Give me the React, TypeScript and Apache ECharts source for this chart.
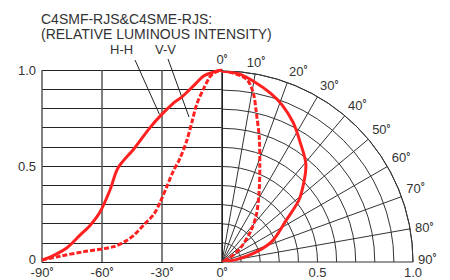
import React, { useEffect, useRef } from 'react';
import * as echarts from 'echarts';

// Left half: rectangular plot (angle in degrees vs relative intensity)
const hhLeftAngle = [-90, -86, -78, -71, -66, -61, -56, -52, -44, -36, -30, -24, -20, -14, -9, -4, 0];
const hhLeftValue = [0.01, 0.025, 0.07, 0.14, 0.19, 0.26, 0.375, 0.49, 0.59, 0.7, 0.77, 0.83, 0.86, 0.92, 0.97, 0.99, 1.0];
const vvLeftAngle = [-90, -81, -69, -54, -48, -44, -38.5, -34, -31, -27.7, -24.5, -21, -17.7, -15, -12.7, -9.3, -6, -3, 0];
const vvLeftValue = [0.01, 0.03, 0.054, 0.08, 0.11, 0.14, 0.2, 0.25, 0.31, 0.39, 0.47, 0.54, 0.63, 0.73, 0.82, 0.9, 0.965, 0.99, 1.0];

// Right half: polar plot (angle from axis, relative intensity as radius)
const hhRightAngle = [0, 5, 10, 16, 21, 27, 33, 41, 45, 51, 57, 67, 73.5, 80, 85];
const hhRightValue = [1.0, 0.99, 0.96, 0.92, 0.88, 0.82, 0.75, 0.67, 0.61, 0.52, 0.4, 0.29, 0.19, 0.08, 0];
const vvRightAngle = [0, 3.5, 7.7, 10.5, 13, 17, 21.5, 27.6, 35.7, 43, 53, 60.5, 65];
const vvRightValue = [1.0, 0.99, 0.965, 0.9, 0.8, 0.67, 0.54, 0.42, 0.31, 0.22, 0.12, 0.05, 0];

const titleLines = ['C4SMF-RJS&C4SME-RJS:', '(RELATIVE LUMINOUS INTENSITY)'];
const seriesNames = ['H-H', 'V-V'];

const FONT = '"Liberation Sans", Arial, sans-serif';
const TXT = '#333';
const RED = '#ff2020';

const degRich = {
  n: { fontSize: 13, color: TXT, fontFamily: FONT },
  d: { fontSize: 10, color: TXT, fontFamily: FONT, fontWeight: 'bold', verticalAlign: 'top' },
  nu: { fontSize: 13, color: TXT, fontFamily: FONT, padding: [0, 0, 6, 0] },
  du: { fontSize: 10, color: TXT, fontFamily: FONT, fontWeight: 'bold', verticalAlign: 'top', padding: [0, 0, 6, 0] },
};
const deg = (v: number) => `{n|${v}}{d|°}`;
const degUp = (v: number) => `{nu|${v}}{du|°}`;

export default function App() {
  const ref = useRef<HTMLDivElement>(null);
  useEffect(() => {
    const chart = echarts.init(ref.current!, null, { renderer: 'svg' });
    const zip = (a: number[], b: number[]) => a.map((x, i) => [x, b[i]]);
    const zipPolar = (ang: number[], val: number[]) => ang.map((x, i) => [val[i], x]);
    chart.setOption({
      animation: false,
      textStyle: { fontFamily: FONT },
      grid: [
        { left: 42, top: 70, width: 180, height: 192 },
        { left: 222, top: 70, width: 191, height: 192 },
      ],
      xAxis: [
        {
          gridIndex: 0, type: 'value', min: -90, max: 0, interval: 30,
          axisLine: { show: true, lineStyle: { color: '#222', width: 1 } },
          axisTick: { show: false },
          splitLine: { show: true, lineStyle: { color: '#555', width: 1.5 } },
          axisLabel: { margin: 4, formatter: (v: number) => deg(v), rich: degRich },
        },
        {
          gridIndex: 1, type: 'value', min: 0, max: 1, interval: 0.5,
          axisLine: { show: false }, axisTick: { show: false }, splitLine: { show: false },
          axisLabel: {
            margin: 4, color: TXT, fontSize: 13, fontFamily: FONT,
            formatter: (v: number) => (v === 0 ? '' : v.toFixed(1)),
          },
        },
      ],
      yAxis: [
        {
          gridIndex: 0, type: 'value', min: 0, max: 1, interval: 0.1,
          axisLine: { show: true, lineStyle: { color: '#222', width: 1 } },
          axisTick: { show: false },
          splitLine: { show: true, lineStyle: { color: '#222', width: 1 } },
          axisLabel: {
            margin: 6, color: TXT, fontSize: 13, fontFamily: FONT,
            rich: { z: { fontSize: 13, color: TXT, fontFamily: FONT, padding: [0, 0, 6, 0] } },
            formatter: (v: number) => {
              if (Math.abs(v) < 1e-6) return '{z|0}';
              if (Math.abs(v - 0.5) < 1e-6) return '0.5';
              if (Math.abs(v - 1) < 1e-6) return '1.0';
              return '';
            },
          },
        },
        { gridIndex: 1, type: 'value', min: 0, max: 1, show: false },
      ],
      polar: { center: [222, 262], radius: 191 },
      angleAxis: {
        type: 'value', min: 0, max: 90, interval: 10,
        startAngle: 90, endAngle: 0, clockwise: true,
        axisLine: { show: true, lineStyle: { color: '#333', width: 1 } },
        axisTick: { show: false },
        splitLine: { show: true, lineStyle: { color: '#333', width: 1 } },
        axisLabel: {
          margin: 5, rich: degRich,
          formatter: (v: number) => (v === 90 ? degUp(v) : deg(v)),
        },
      },
      radiusAxis: {
        type: 'value', min: 0, max: 1, interval: 0.1,
        axisLine: { show: false }, axisTick: { show: false }, axisLabel: { show: false },
        splitLine: { show: true, lineStyle: { color: '#333', width: 1 } },
      },
      series: [
        {
          name: seriesNames[0], type: 'line', xAxisIndex: 0, yAxisIndex: 0,
          data: zip(hhLeftAngle, hhLeftValue), showSymbol: false, smooth: 0.3,
          lineStyle: { color: RED, width: 3 }, z: 5,
        },
        {
          name: seriesNames[1], type: 'line', xAxisIndex: 0, yAxisIndex: 0,
          data: zip(vvLeftAngle, vvLeftValue), showSymbol: false, smooth: 0.3,
          lineStyle: { color: RED, width: 3, type: [5, 2] }, z: 5,
        },
        {
          name: seriesNames[0], type: 'line', coordinateSystem: 'polar',
          data: zipPolar(hhRightAngle, hhRightValue), showSymbol: false, smooth: 0.3,
          lineStyle: { color: RED, width: 3 }, z: 5,
        },
        {
          name: seriesNames[1], type: 'line', coordinateSystem: 'polar',
          data: zipPolar(vvRightAngle, vvRightValue), showSymbol: false, smooth: 0.3,
          lineStyle: { color: RED, width: 3, type: [5, 2] }, z: 5,
        },
      ],
      graphic: [
        { type: 'text', left: 41, top: 12, style: { text: titleLines[0], fill: TXT, font: `14px ${FONT}` } },
        { type: 'text', left: 41, top: 27, style: { text: titleLines[1], fill: TXT, font: `14px ${FONT}` } },
        { type: 'text', left: 110, top: 43, style: { text: seriesNames[0], fill: TXT, font: `13px ${FONT}` } },
        { type: 'text', left: 155, top: 43, style: { text: seriesNames[1], fill: TXT, font: `13px ${FONT}` } },
        { type: 'line', shape: { x1: 135, y1: 60, x2: 159.5, y2: 114.5 }, style: { stroke: '#222', lineWidth: 1 } },
        { type: 'line', shape: { x1: 168, y1: 59, x2: 189, y2: 117 }, style: { stroke: '#222', lineWidth: 1 } },
      ],
    });
    return () => chart.dispose();
  }, []);
  return <div ref={ref} style={{ position: 'absolute', left: 0, top: 0, width: 450, height: 280 }} />;
}
